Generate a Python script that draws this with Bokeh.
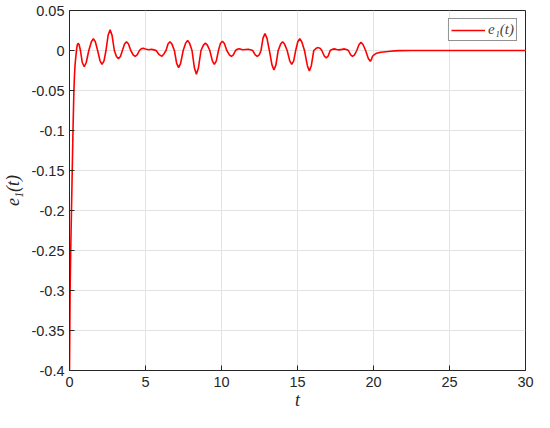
from bokeh.plotting import figure
from bokeh.models import ColumnDataSource, Legend, LegendItem, FixedTicker
from bokeh.embed import file_html
from bokeh.resources import INLINE

# (t, e1) samples
e1_samples = [
    (0.00, -0.4), (0.02, -0.35), (0.04, -0.3), (0.08, -0.25), (0.13, -0.2), (0.18, -0.15),
    (0.23, -0.1), (0.29, -0.05), (0.33, -0.03), (0.37, -0.017), (0.42, -0.007), (0.47, 0.002),
    (0.52, 0.0075), (0.57, 0.0089), (0.63, 0.0075), (0.72, 0.0), (0.84, -0.015), (0.97, -0.0203),
    (1.10, -0.015), (1.27, 0.0), (1.44, 0.011), (1.57, 0.0149), (1.70, 0.011), (1.85, 0.0),
    (2.01, -0.013), (2.14, -0.0174), (2.27, -0.013), (2.40, 0.0), (2.54, 0.019), (2.67, 0.0259),
    (2.80, 0.019), (2.95, 0.0), (3.09, -0.0075), (3.22, -0.0102), (3.35, -0.0075), (3.48, 0.0),
    (3.62, 0.008), (3.75, 0.0109), (3.88, 0.008), (4.03, 0.0), (4.19, -0.0054), (4.32, -0.0073),
    (4.45, -0.0054), (4.60, 0.0), (4.72, 0.0021), (4.85, 0.0028), (5.00, 0.0018), (5.20, 0.0010),
    (5.40, 0.0015), (5.55, 0.0008), (5.70, 0.0), (5.90, -0.0052), (6.08, -0.0073), (6.22, -0.004),
    (6.35, 0.0), (6.48, 0.008), (6.61, 0.0109), (6.74, 0.008), (6.90, 0.0), (7.05, -0.016),
    (7.18, -0.0215), (7.31, -0.016), (7.48, 0.0), (7.64, 0.0092), (7.77, 0.0125), (7.90, 0.0092),
    (8.06, 0.0), (8.22, -0.022), (8.35, -0.0296), (8.48, -0.022), (8.65, 0.0), (8.81, 0.0068),
    (8.94, 0.0092), (9.07, 0.0068), (9.23, 0.0), (9.40, -0.013), (9.53, -0.0174), (9.66, -0.013),
    (9.80, 0.0), (9.93, 0.0087), (10.06, 0.0117), (10.19, 0.0087), (10.35, 0.0), (10.52, -0.0054),
    (10.65, -0.0073), (10.78, -0.0054), (10.92, 0.0), (11.04, 0.0016), (11.16, 0.0022),
    (11.28, 0.0016), (11.40, 0.0010), (11.58, 0.0013), (11.76, 0.0016), (11.90, 0.0009),
    (12.05, 0.0), (12.22, -0.0054), (12.35, -0.0073), (12.48, -0.0054), (12.60, 0.0),
    (12.73, 0.0155), (12.86, 0.0210), (12.99, 0.0155), (13.15, 0.0), (13.32, -0.018),
    (13.45, -0.0243), (13.58, -0.018), (13.73, 0.0), (13.89, 0.008), (14.02, 0.0109),
    (14.15, 0.008), (14.32, 0.0), (14.49, -0.013), (14.62, -0.0174), (14.75, -0.013),
    (14.88, 0.0), (15.02, 0.011), (15.15, 0.0149), (15.28, 0.011), (15.46, 0.0),
    (15.65, -0.019), (15.78, -0.0255), (15.91, -0.019), (16.07, 0.0), (16.23, 0.0027),
    (16.36, 0.0036), (16.48, 0.0027), (16.60, 0.0), (16.76, -0.0069), (16.89, -0.0093),
    (17.02, -0.0069), (17.15, 0.0), (17.30, 0.0015), (17.42, 0.0020), (17.58, 0.0013),
    (17.73, 0.0008), (17.92, 0.0014), (18.09, 0.0020), (18.22, 0.0012), (18.35, 0.0),
    (18.50, -0.0054), (18.62, -0.0073), (18.75, -0.0054), (18.90, 0.0), (19.05, 0.0075),
    (19.18, 0.0101), (19.31, 0.0075), (19.48, 0.0), (19.66, -0.010), (19.79, -0.0134),
    (19.87, -0.011), (19.93, -0.0075), (20.00, -0.0060), (20.10, -0.0045), (20.20, -0.0035),
    (20.35, -0.0027), (20.50, -0.0022), (20.80, -0.0015), (21.10, -0.0010), (21.40, -0.0005),
    (21.70, -0.0002), (22.50, 0.0), (30.0, 0.0),
]
t_vals = [s[0] for s in e1_samples]
e1_vals = [s[1] for s in e1_samples]

x_ticks = [0, 5, 10, 15, 20, 25, 30]
y_ticks = [-0.4, -0.35, -0.3, -0.25, -0.2, -0.15, -0.1, -0.05, 0.0, 0.05]
y_tick_labels = ["-0.4", "-0.35", "-0.3", "-0.25", "-0.2", "-0.15", "-0.1", "-0.05", "0", "0.05"]
legend_label = "e\u2081(t)"
x_label = "t"
y_label = "e\u2081(t)"

src = ColumnDataSource(data=dict(t=t_vals, e=e1_vals))

p = figure(width=534, height=412, output_backend="svg", toolbar_location=None,
           x_range=(0, 30), y_range=(-0.4, 0.05),
           min_border_left=6, min_border_right=9, min_border_top=10, min_border_bottom=4)

axis_col = "#262626"
p.outline_line_color = axis_col
p.outline_line_width = 1
p.background_fill_color = "white"
p.border_fill_color = "white"

for ax in (p.xaxis[0], p.yaxis[0]):
    ax.axis_line_color = axis_col
    ax.major_tick_line_color = axis_col
    ax.major_tick_in = 5
    ax.major_tick_out = 0
    ax.minor_tick_line_color = None
    ax.major_label_text_color = axis_col
    ax.major_label_text_font = "Liberation Sans"
    ax.major_label_text_font_size = "14.5px"
    ax.axis_label_text_font = "Liberation Serif"
    ax.axis_label_text_font_style = "italic"
    ax.axis_label_text_font_size = "18px"
    ax.axis_label_text_color = axis_col

p.xaxis.ticker = FixedTicker(ticks=x_ticks)
p.yaxis.ticker = FixedTicker(ticks=y_ticks)
p.yaxis.major_label_overrides = {v: s for v, s in zip(y_ticks, y_tick_labels)}
p.xaxis.axis_label = x_label
p.yaxis.axis_label = y_label
p.xaxis.major_label_standoff = 6
p.yaxis.major_label_standoff = 5
p.xaxis.axis_label_standoff = 0
p.yaxis.axis_label_standoff = 5

p.xgrid.grid_line_color = "#e3e3e3"
p.ygrid.grid_line_color = "#e3e3e3"

r = p.line("t", "e", source=src, line_color="#ff0000", line_width=1.6)

legend = Legend(items=[LegendItem(label=legend_label, renderers=[r])],
                location="top_right")
legend.border_line_color = axis_col
legend.border_line_width = 1
legend.background_fill_color = "white"
legend.background_fill_alpha = 1
legend.label_text_font = "Liberation Serif"
legend.label_text_font_style = "italic"
legend.label_text_font_size = "15px"
legend.glyph_width = 34
legend.glyph_height = 16
legend.padding = 2
legend.margin = 8
legend.label_standoff = 3
legend.spacing = 0
p.add_layout(legend)

open("out.html", "w").write(file_html(p, INLINE))
